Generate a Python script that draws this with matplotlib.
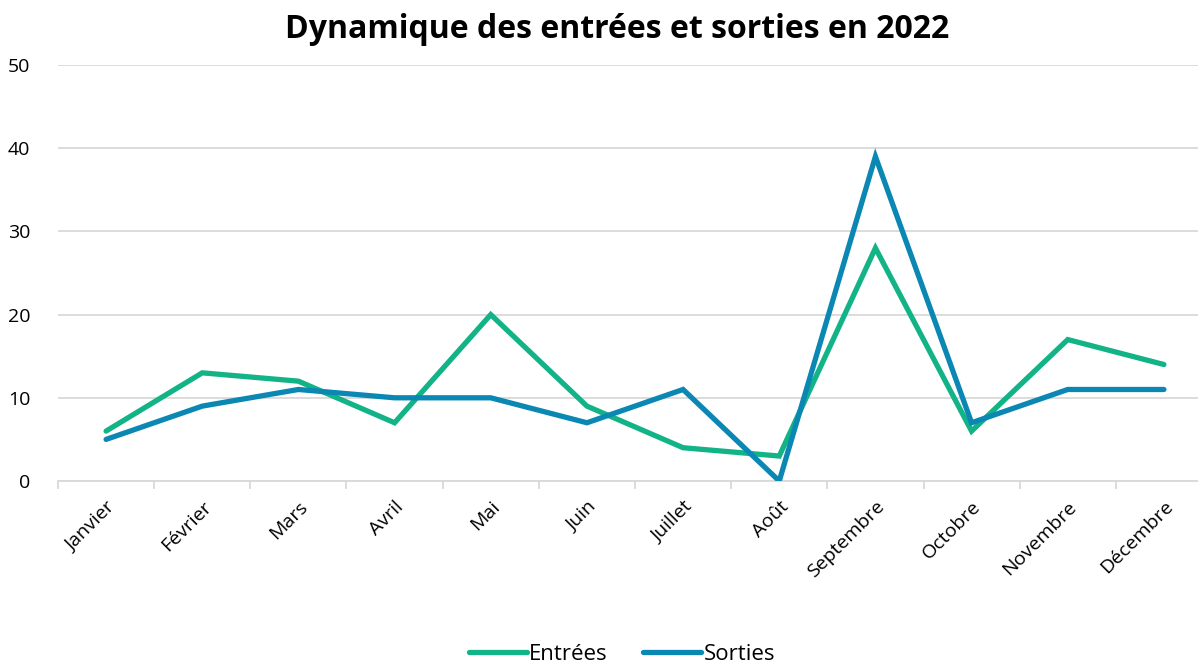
import matplotlib
matplotlib.use("Agg")
import matplotlib.pyplot as plt
import numpy as np

# Data
mois = ["Janvier", "Février", "Mars", "Avril", "Mai", "Juin", "Juillet",
        "Août", "Septembre", "Octobre", "Novembre", "Décembre"]
entrees = [6, 13, 12, 7, 20, 9, 4, 3, 28, 6, 17, 14]
sorties = [5, 9, 11, 10, 10, 7, 11, 0, 39, 7, 11, 11]

plt.rcParams['font.family'] = ['Open Sans', 'DejaVu Sans']

fig = plt.figure(figsize=(11.98, 6.64), dpi=100)
ax = fig.add_axes([58 / 1198, 1 - 481 / 664, 1154 / 1198, (481 - 65) / 664])

x = np.arange(len(mois))
l1, = ax.plot(x, entrees, color="#12B386", lw=3.8, solid_capstyle="round",
              solid_joinstyle="miter", label="Entrées", zorder=3)
l2, = ax.plot(x, sorties, color="#0B87B3", lw=3.8, solid_capstyle="round",
              solid_joinstyle="miter", label="Sorties", zorder=4)

ax.set_xlim(-0.5, len(mois) - 0.5)
ax.set_ylim(0, 50)
ax.set_yticks(range(0, 51, 10))
ax.yaxis.grid(True, color="#D9D9D9", lw=1.3)
ax.set_axisbelow(True)

# category labels centred, tick marks at category boundaries
ax.set_xticks(x)
ax.set_xticklabels(mois, rotation=45, ha="right", rotation_mode="anchor", fontsize=14)
ax.set_xticks(np.arange(-0.5, len(mois), 1), minor=True)
ax.tick_params(axis="x", which="major", length=0, pad=12)
ax.tick_params(axis="x", which="minor", length=6, color="#D9D9D9", width=1.3)
ax.tick_params(axis="y", length=0, labelsize=14, pad=20)

for side in ["top", "right", "left"]:
    ax.spines[side].set_visible(False)
ax.spines["bottom"].set_color("#D9D9D9")
ax.spines["bottom"].set_linewidth(1.3)

fig.text(617 / 1198, 1 - 30 / 664, "Dynamique des entrées et sorties en 2022",
         ha="center", va="center", fontsize=23, fontweight="bold")

fig.legend(handles=[l1, l2], loc="center", bbox_to_anchor=(622 / 1198, 1 - 654 / 664),
           ncol=2, frameon=False, fontsize=16, handlelength=2.6, columnspacing=1.6,
           handletextpad=0.1)

fig.savefig("out.png", dpi=100)
